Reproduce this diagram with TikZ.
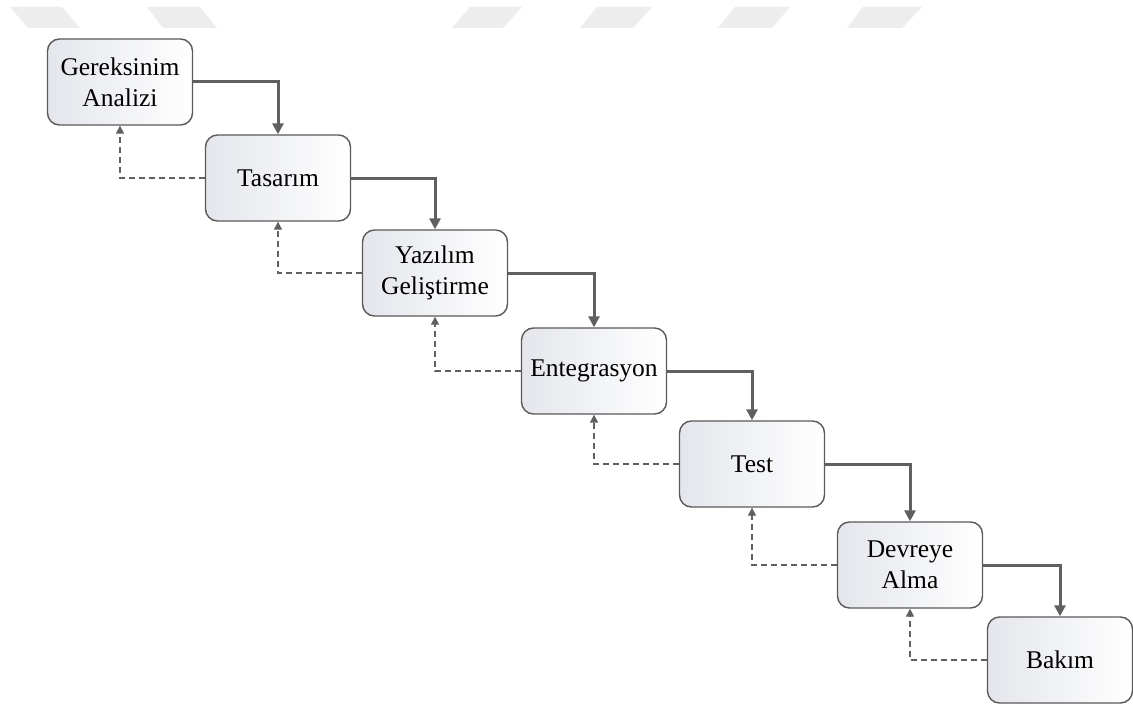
\documentclass[tikz,border=0pt]{standalone}
\usepackage{fontspec}
\setmainfont{Liberation Serif}
\usetikzlibrary{arrows.meta}
\definecolor{edgegray}{HTML}{5A5A5A}
\definecolor{linkgray}{HTML}{606060}
\definecolor{shadegray}{HTML}{E4E6EC}
\definecolor{markgray}{HTML}{EDEDED}
\tikzset{
  phase/.style={draw=edgegray, line width=1.4pt, rounded corners=12pt,
    minimum width=145pt, minimum height=86pt, align=center,
    left color=shadegray, right color=white,
    font=\fontsize{25.5}{31}\selectfont, inner sep=0pt},
  forward/.style={draw=linkgray, line width=3pt,
    -{Triangle[length=11pt,width=11pt]}},
  backward/.style={draw=linkgray, line width=1.3pt, dash pattern=on 6pt off 4pt,
    -{Triangle[length=8pt,width=8pt]}},
  stripe/.style={fill=markgray, draw=none}
}
\begin{document}
\begin{tikzpicture}[x=1pt, y=-1pt]
  \useasboundingbox (0,0) rectangle (1133,709);
  \fill[white] (0,0) rectangle (1133,709);

  % faint stripes along the top edge
  \fill[stripe] (10,7) -- (62,7) -- (80,28) -- (28,28) -- cycle;
  \fill[stripe] (147,7) -- (200,7) -- (217,28) -- (163,28) -- cycle;
  \fill[stripe] (470,7) -- (522,7) -- (503,28) -- (452,28) -- cycle;
  \fill[stripe] (597,7) -- (652,7) -- (633,28) -- (580,28) -- cycle;
  \fill[stripe] (735,7) -- (790,7) -- (772,28) -- (718,28) -- cycle;
  \fill[stripe] (863,7) -- (922,7) -- (902,28) -- (847,28) -- cycle;

  % phases
  \node[phase] (req)  at (120,82)   {Gereksinim\\Analizi};
  \node[phase] (des)  at (278,178)  {Tasarım};
  \node[phase] (dev)  at (435,273)  {Yazılım\\Geliştirme};
  \node[phase] (int)  at (594,371)  {Entegrasyon};
  \node[phase] (tst)  at (752,464)  {Test};
  \node[phase] (dep)  at (910,565)  {Devreye\\Alma};
  \node[phase] (mnt)  at (1060,660) {Bakım};

  % forward flow
  \draw[forward] (req.east) -| (des.north);
  \draw[forward] (des.east) -| (dev.north);
  \draw[forward] (dev.east) -| (int.north);
  \draw[forward] (int.east) -| (tst.north);
  \draw[forward] (tst.east) -| (dep.north);
  \draw[forward] (dep.east) -| (mnt.north);

  % feedback flow
  \draw[backward] (des.west) -| (req.south);
  \draw[backward] (dev.west) -| (des.south);
  \draw[backward] (int.west) -| (dev.south);
  \draw[backward] (tst.west) -| (int.south);
  \draw[backward] (dep.west) -| (tst.south);
  \draw[backward] (mnt.west) -| (dep.south);
\end{tikzpicture}
\end{document}
